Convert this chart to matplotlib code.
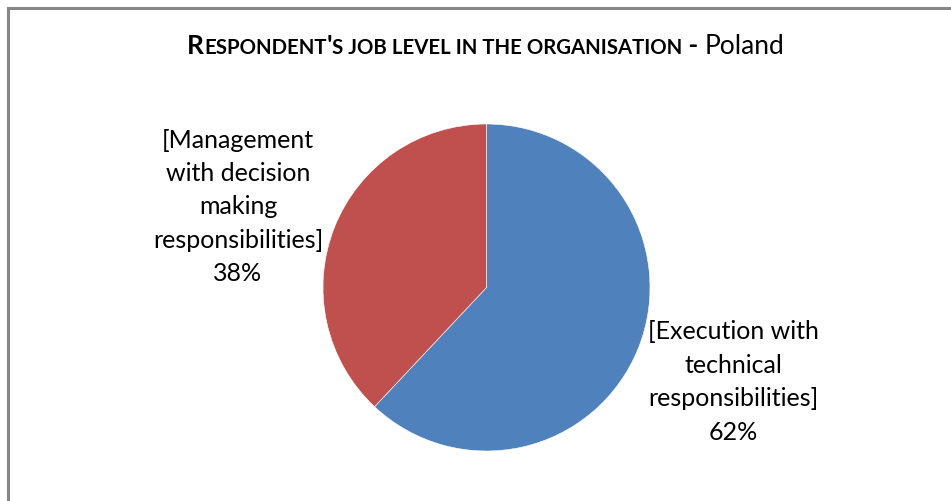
import matplotlib.pyplot as plt
from matplotlib.patches import Rectangle
from matplotlib.offsetbox import TextArea, HPacker, AnchoredOffsetbox

categories = ["Execution with\ntechnical\nresponsibilities",
              "Management\nwith decision\nmaking\nresponsibilities"]
shares = [62, 38]
colors = ["#4F81BD", "#C0504D"]
country = "Poland"

W, H = 951, 502
fig = plt.figure(figsize=(W / 100, H / 100), dpi=100)
plt.rcParams['font.family'] = ['Lato', 'DejaVu Sans']

# outer chart frame (right / bottom edges fall outside the canvas)
fig.patches.append(Rectangle((8 / W, -0.1), 1.2, 1.1 - 9 / H, transform=fig.transFigure,
                             fill=False, edgecolor="#878787", linewidth=2.2))

# pie area, placed in pixels
cx, cy, r = 486.5, 288.5, 163.5
ax = fig.add_axes([(cx - r) / W, (H - cy - r) / H, 2 * r / W, 2 * r / H])
ax.pie(shares, colors=colors, startangle=90, counterclock=False,
       wedgeprops=dict(edgecolor="white", linewidth=0.4))
ax.set_xlim(-1, 1)
ax.set_ylim(-1, 1)
ax.set_aspect("equal")
ax.axis("off")

lab_fs = 18
label_pos = [(733, 382), (238, 207)]
for cat, val, (x, y) in zip(categories, shares, label_pos):
    fig.text(x / W, 1 - y / H, "[" + cat + "]\n" + f"{val}%", ha="center", va="center",
             fontsize=lab_fs, linespacing=1.55, color="black")

# title in fake small caps
big, small = 19, 14.7
parts = [("R", big, "bold"), ("ESPONDENT", small, "bold"), ("'", big, "bold"),
         ("S JOB LEVEL IN THE ORGANISATION", small, "bold"), (" - ", big, "bold"),
         (country, big, "normal")]
boxes = [TextArea(t, textprops=dict(fontsize=s, fontweight=w, color="black"))
         for t, s, w in parts]
pack = HPacker(children=boxes, align="baseline", pad=0, sep=0)
anch = AnchoredOffsetbox(loc="center", child=pack, frameon=False,
                         bbox_to_anchor=(486 / W, 1 - 47 / H),
                         bbox_transform=fig.transFigure, borderpad=0, pad=0)
fig.add_artist(anch)

fig.savefig("out.png", dpi=100)
